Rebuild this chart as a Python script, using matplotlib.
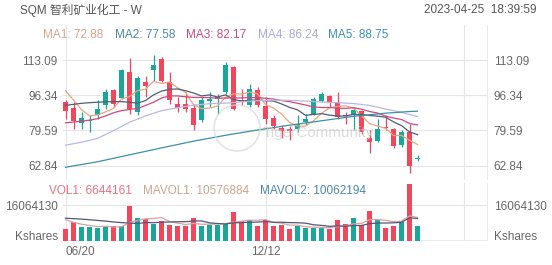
import matplotlib.pyplot as plt
from matplotlib.patches import Ellipse

# weekly candles, 06/20/2022 .. 04/24/2023 (price in USD)
opens = [93.08, 90.25, 83.16, 84.26, 86.78, 91.51, 98.60, 95.13, 107.26, 88.36,
         102.54, 108.36, 113.56, 102.54, 92.30, 92.30, 90.41, 84.42, 93.56, 94.66,
         97.81, 109.94, 94.19, 91.51, 98.91, 91.04, 85.68, 80.96, 80.48, 80.48,
         83.63, 87.10, 93.56, 95.76, 93.08, 86.78, 86.78, 88.83, 76.23, 74.65,
         81.27, 80.48, 72.61, 78.91, 66.00]
highs = [93.87, 93.08, 88.36, 86.78, 94.19, 99.39, 99.39, 108.84, 114.03, 105.69,
         105.69, 115.61, 114.66, 107.26, 95.45, 97.81, 92.30, 95.45, 97.81, 97.02,
         111.99, 110.41, 99.39, 101.75, 100.17, 95.45, 86.78, 82.06, 81.59, 86.78,
         87.57, 95.45, 97.81, 96.23, 97.81, 88.36, 90.72, 89.15, 79.70, 85.21,
         86.78, 80.96, 79.70, 82.53, 67.88]
lows = [85.21, 80.48, 80.48, 78.91, 85.21, 89.93, 90.72, 94.66, 87.57, 86.78,
        95.45, 103.32, 102.54, 92.30, 88.36, 88.36, 80.01, 83.63, 90.72, 87.57,
        97.02, 89.46, 91.51, 90.72, 90.72, 82.85, 80.48, 76.23, 75.28, 78.91,
        82.06, 86.78, 93.08, 90.72, 85.21, 82.53, 79.70, 78.12, 69.00, 74.18,
        79.70, 71.03, 71.82, 59.53, 65.20]
closes = [88.67, 83.95, 85.52, 84.74, 89.93, 97.81, 92.30, 108.36, 89.93, 104.58,
          100.96, 110.88, 103.32, 93.87, 90.41, 89.93, 82.06, 93.87, 94.66, 95.45,
          110.88, 89.93, 93.56, 99.39, 91.51, 85.21, 81.59, 79.38, 79.22, 82.85,
          85.21, 94.34, 97.02, 92.61, 86.00, 86.31, 89.15, 78.91, 74.18, 80.17,
          80.64, 72.14, 78.91, 62.68, 66.30]
# volume, millions of shares
volume = [5.35, 8.41, 6.43, 6.12, 5.66, 6.12, 6.88, 6.73, 15.8, 10.4,
          9.79, 7.65, 8.72, 7.04, 6.73, 6.58, 10.1, 6.88, 7.04, 7.34,
          7.65, 13.16, 9.03, 9.49, 6.88, 9.49, 6.58, 7.19, 5.2, 6.88,
          5.66, 5.97, 5.97, 5.2, 9.33, 7.5, 10.1, 7.19, 13.6, 9.49,
          5.97, 6.73, 8.41, 25.6, 6.64]

# moving averages
ma1 = [98.6, 94.0, 89.5, 86.5, 87.0, 88.4, 90.1, 94.6, 95.7, 98.6,
       99.2, 102.9, 101.9, 102.7, 99.9, 97.7, 91.9, 90.0, 90.2, 91.2,
       95.4, 97.0, 96.9, 97.8, 97.1, 91.9, 90.3, 87.4, 83.4, 81.7,
       81.7, 84.2, 87.7, 90.4, 91.0, 91.3, 90.2, 86.6, 82.9, 81.7,
       80.6, 77.2, 77.2, 74.9, 72.9]
ma2 = [91.5, 92.0, 92.5, 92.8, 93.0, 93.2, 93.3, 93.3, 93.0, 92.6,
       93.8, 96.5, 98.3, 99.2, 99.3, 98.5, 97.4, 96.0, 96.5, 95.5,
       96.5, 94.4, 93.5, 94.0, 94.1, 93.7, 93.6, 92.2, 90.6, 89.4,
       86.8, 87.2, 87.6, 86.9, 86.4, 86.5, 87.2, 87.2, 86.7, 86.4,
       85.9, 83.7, 81.9, 78.9, 77.6]
ma3 = [83.2, 83.6, 84.0, 84.5, 85.2, 86.5, 88.0, 89.0, 89.6, 90.0,
       91.5, 93.0, 95.0, 96.0, 96.0, 95.6, 95.3, 95.3, 95.2, 94.9,
       95.0, 95.0, 95.1, 95.2, 95.2, 94.9, 94.5, 93.8, 93.3, 92.5,
       91.7, 90.8, 90.5, 90.5, 90.2, 90.1, 90.4, 89.7, 88.6, 87.9,
       86.4, 85.5, 84.8, 82.9, 82.2]
ma4_idx = [0, 2, 4, 6, 8, 10, 12, 14, 16, 18, 20, 22, 24, 26, 28, 30, 32, 34, 36, 38, 40, 42, 44]
ma4 = [72.6, 74.0, 75.8, 79.5, 83.5, 86.5, 89.0, 90.4, 91.6, 92.3, 92.6, 93.2,
       93.8, 94.0, 93.9, 93.6, 93.1, 92.8, 92.4, 91.5, 89.8, 88.2, 86.2]
ma5_idx = [0, 4, 8, 12, 16, 20, 24, 28, 32, 36, 40, 43, 44]
ma5 = [62.1, 64.7, 68.0, 71.3, 74.5, 77.3, 79.8, 82.1, 84.2, 86.3, 87.8, 88.6, 88.75]

mavol1 = [9.5, 8.3, 7.5, 6.9, 6.39, 6.55, 6.24, 6.30, 8.24, 9.19,
          9.92, 10.07, 10.47, 8.72, 7.99, 7.34, 7.83, 7.47, 7.47, 7.59,
          7.80, 8.41, 8.84, 9.33, 9.24, 9.61, 8.29, 7.93, 7.07, 7.07,
          6.30, 6.18, 5.94, 5.94, 6.43, 6.79, 7.62, 7.86, 9.54, 9.58,
          9.27, 8.60, 8.84, 11.24, 10.58]
mavol2 = [10.2, 10.0, 9.8, 9.5, 9.2, 8.9, 8.5, 8.2, 8.0, 7.79,
          8.24, 8.16, 8.39, 8.48, 8.59, 8.63, 8.95, 8.97, 8.10, 7.79,
          7.57, 8.12, 8.16, 8.40, 8.42, 8.71, 8.35, 8.39, 8.20, 8.16,
          7.96, 7.24, 6.94, 6.51, 6.75, 6.55, 6.90, 6.90, 7.74, 8.01,
          8.03, 8.11, 8.35, 10.39, 10.06]

price_ticks = [62.84, 79.59, 96.34, 113.09]
vol_tick = 16.064130
date_labels = ['06/20', '12/12']
date_pos = [0, 25]

ma_names = ['MA1: 72.88', 'MA2: 77.58', 'MA3: 82.17', 'MA4: 86.24', 'MA5: 88.75']
vol_names = ['VOL1: 6644161', 'MAVOL1: 10576884', 'MAVOL2: 10062194']

UP = '#1ba69a'
DOWN = '#f0475f'
GRID = '#e6e6e6'
TXT = '#666666'
ma_line_col = ['#e8a67e', '#4f5d7a', '#d0487e', '#b8b8e4', '#3d8fa6']
ma_lab_col = ['#d4a68c', '#4d87a8', '#c44d87', '#a8a8d8', '#3a90b2']

plt.rcParams['font.family'] = ['Liberation Sans', 'Noto Sans CJK SC', 'DejaVu Sans']
FS = 8.5

W, H = 552, 265
fig = plt.figure(figsize=(W / 100, H / 100), dpi=100, facecolor='white')


def box(x0, y0, x1, y1):
    return [x0 / W, 1 - y1 / H, (x1 - x0) / W, (y1 - y0) / H]


ax = fig.add_axes(box(63.3, 25, 488, 180))
axv = fig.add_axes(box(63.3, 183, 488, 240.7))

n = len(closes)
xs = list(range(n))
cols = [UP if c >= o else DOWN for o, c in zip(opens, closes)]

for a in (ax, axv):
    a.set_xlim(-0.275, 52.81)
    for s in a.spines.values():
        s.set_visible(False)
    for xv in date_pos + [49.85]:
        a.axvline(xv, color=GRID, lw=0.8, zorder=0)
    a.axvline(52.81, color=GRID, lw=1.2, zorder=0)
    a.tick_params(length=0, labelsize=FS, labelcolor=TXT,
                  labelleft=True, labelright=True)

# price panel
ax.set_ylim(56.04, 129.73)
ax.set_yticks(price_ticks)
ax.set_yticklabels([f'{v:.2f}' for v in price_ticks])
ax.tick_params(axis='y', pad=4)
ax.set_xticks([])
for v in price_ticks:
    ax.axhline(v, color=GRID, lw=0.8, zorder=0)

ax.vlines(xs, lows, highs, colors=cols, lw=0.9, zorder=2)
bottoms = [min(o, c) for o, c in zip(opens, closes)]
heights = [max(abs(c - o), 0.45) for o, c in zip(opens, closes)]
ax.bar(xs, heights, bottom=bottoms, width=0.7, color=cols, zorder=3)

ax.plot(xs, ma1, color=ma_line_col[0], lw=0.9, zorder=4)
ax.plot(xs, ma2, color=ma_line_col[1], lw=0.9, zorder=4)
ax.plot(xs, ma3, color=ma_line_col[2], lw=0.9, zorder=4)
ax.plot(ma4_idx, ma4, color=ma_line_col[3], lw=0.9, zorder=4)
ax.plot(ma5_idx, ma5, color=ma_line_col[4], lw=0.9, zorder=4)

# volume panel
axv.set_ylim(0, 26.18)
axv.set_yticks([2.27, vol_tick])
axv.set_yticklabels(['Kshares', '16064130'])
axv.tick_params(axis='y', pad=4)
axv.axhline(vol_tick, color=GRID, lw=0.8, zorder=0)
axv.axhline(0, color=GRID, lw=1.2, zorder=0)
axv.bar(xs, volume, width=0.72, color=cols, zorder=3)
axv.plot(xs, mavol1, color='#d9a3a0', lw=0.9, zorder=4)
axv.plot(xs, mavol2, color='#55557a', lw=0.9, zorder=4)
axv.set_xticks(date_pos)
axv.set_xticklabels(date_labels)
axv.tick_params(axis='x', pad=4)
axv.get_xticklabels()[0].set_ha('left')

# header texts
fig.text(20 / W, 1 - 10 / H, 'SQM 智利矿业化工 - W', fontsize=FS, color='#555555', va='center')
fig.text(536 / W, 1 - 10 / H, '2023-04-25  18:39:59', fontsize=FS, color='#555555',
         va='center', ha='right')
for name, xp, c in zip(ma_names, [43, 115, 186, 258, 328], ma_lab_col):
    fig.text(xp / W, 1 - 35 / H, name, fontsize=FS, color=c, va='center')
for name, xp, c in zip(vol_names, [49, 143, 260], ['#e8707e', '#c9a690', '#4d87a8']):
    fig.text(xp / W, 1 - 191 / H, name, fontsize=FS, color=c, va='center')

# faint watermark
fig.patches.append(Ellipse((237 / W, 1 - 128 / H), 46 / W, 46 / H, fill=False,
                           ec='#d8d8d8', lw=1.2, transform=fig.transFigure, zorder=10, alpha=0.7))
fig.text(263 / W, 1 - 133 / H, 'TigerCommunity', fontsize=11, color='#cccccc',
         va='center', alpha=0.7, zorder=10)

fig.savefig('out.png', dpi=100, facecolor='white')
